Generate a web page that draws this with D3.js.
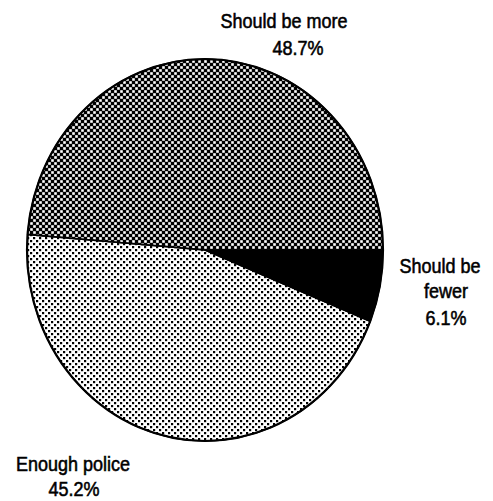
<!DOCTYPE html>
<html>
<head>
<meta charset="utf-8">
<script src="https://cdn.jsdelivr.net/npm/d3@7"></script>
<style>
  html, body { margin: 0; padding: 0; background: #fff; }
  svg { display: block; }
  text { font-family: "Liberation Sans", Arial, Helvetica, sans-serif; fill: #000; }
</style>
</head>
<body>
<svg id="chart" width="493" height="501"></svg>
<script>
// Opinions on the number of police
const categories = ["Should be fewer", "Enough police", "Should be more"];
const values = [6.1, 45.2, 48.7];
const fills = ["solid", "dots", "checker"];
// Label lines per slice: [text, centre x, baseline y]
const labelLines = [
  [["Should be", 440, 273], ["fewer", 446, 298], ["6.1%", 446, 325]],
  [["Enough police", 73, 471], ["45.2%", 74, 496]],
  [["Should be more", 284, 28], ["48.7%", 298, 55]]
];

const W = 493, H = 501;
const svg = d3.select("#chart");
const cx = 205, cy = 250, rx = 178, ry = 191;
const sx = rx / ry;
const ellipseTransform = `translate(${cx},${cy}) scale(${sx},1)`;

const defs = svg.append("defs");
// dark screen: black with small white holes on a checker lattice
const chk = defs.append("pattern").attr("id", "checker")
  .attr("patternUnits", "userSpaceOnUse").attr("width", 6).attr("height", 6);
chk.append("rect").attr("width", 6).attr("height", 6).attr("fill", "#000");
chk.append("rect").attr("x", 0.2).attr("y", 0.2).attr("width", 2.6).attr("height", 2.6).attr("fill", "#fff");
chk.append("rect").attr("x", 3.2).attr("y", 3.2).attr("width", 2.6).attr("height", 2.6).attr("fill", "#fff");
// light dot screen
const dots = defs.append("pattern").attr("id", "dots")
  .attr("patternUnits", "userSpaceOnUse").attr("width", 6).attr("height", 6);
dots.append("rect").attr("width", 6).attr("height", 6).attr("fill", "#fff");
dots.append("rect").attr("width", 2.2).attr("height", 2.2).attr("fill", "#000");
dots.append("rect").attr("x", 3).attr("y", 3).attr("width", 2.2).attr("height", 2.2).attr("fill", "#000");

const fillFor = f => f === "solid" ? "#000" : `url(#${f})`;

const data = categories.map((c, i) => ({ name: c, value: values[i], fill: fills[i], lines: labelLines[i] }));

// slices start at 3 o'clock and run clockwise
const pie = d3.pie().sort(null).value(d => d.value)
  .startAngle(Math.PI / 2).endAngle(Math.PI / 2 + 2 * Math.PI);
const arc = d3.arc().innerRadius(0).outerRadius(ry);
const arcs = pie(data);

// each slice is a screen-space fill clipped to its (slightly tall) wedge
arcs.forEach((d, i) => {
  defs.append("clipPath").attr("id", `slice-clip-${i}`)
    .append("path").attr("transform", ellipseTransform).attr("d", arc(d));
});
svg.append("g").selectAll("rect").data(arcs).join("rect")
  .attr("width", W).attr("height", H)
  .attr("clip-path", (d, i) => `url(#slice-clip-${i})`)
  .attr("fill", d => fillFor(d.data.fill));

// slice outlines and rim
const g = svg.append("g").attr("transform", ellipseTransform);
g.selectAll("path.slice").data(arcs).join("path")
  .attr("class", "slice")
  .attr("d", arc)
  .attr("fill", "none")
  .attr("stroke", "#000")
  .attr("stroke-width", 1.5)
  .attr("stroke-linejoin", "round")
  .attr("vector-effect", "non-scaling-stroke");
g.append("circle").attr("r", ry).attr("fill", "none")
  .attr("stroke", "#000").attr("stroke-width", 2.2)
  .attr("vector-effect", "non-scaling-stroke");

// labels, slightly tall type
const lab = svg.append("g");
data.forEach(d => {
  d.lines.forEach(([t, x, y]) => {
    lab.append("text")
      .attr("transform", `translate(${x},${y}) scale(1,1.1)`)
      .attr("text-anchor", "middle")
      .attr("font-size", 18)
      .attr("stroke", "#000").attr("stroke-width", 0.5)
      .text(t);
  });
});
</script>
</body>
</html>
